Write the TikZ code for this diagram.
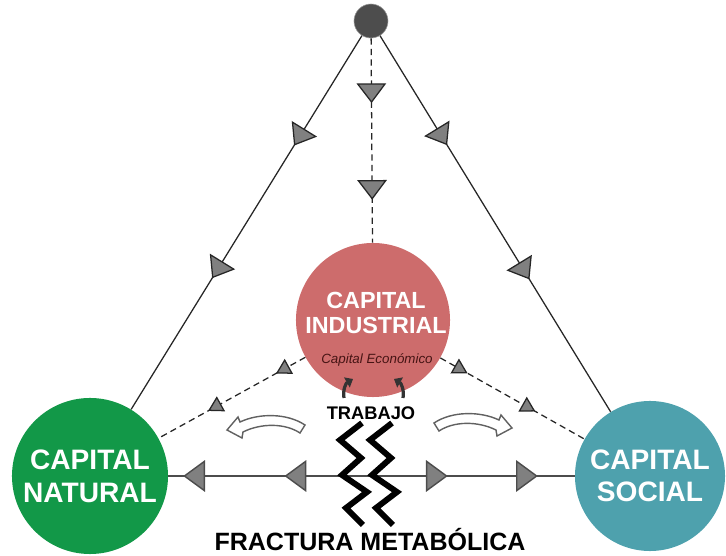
\documentclass[tikz,border=0pt]{standalone}
\usepackage{fontspec}
\setmainfont{Liberation Sans}
\usetikzlibrary{arrows.meta,decorations.markings}
\definecolor{indred}{RGB}{205,108,108}
\definecolor{natgreen}{RGB}{18,152,72}
\definecolor{socteal}{RGB}{78,161,173}
\definecolor{topgray}{RGB}{77,77,77}
\definecolor{trigray}{RGB}{128,128,128}
\definecolor{econtext}{RGB}{70,20,20}
\tikzset{
	line/.style={draw=black!85, line width=0.9pt},
	dline/.style={line, dash pattern=on 4.5pt off 3pt},
	hline/.style={draw=black!70, line width=1pt},
	bigtri/.tip={Triangle[length=14pt, width=21pt, fill=trigray]},
	widetri/.tip={Triangle[length=15.5pt, width=22.5pt, fill=trigray]},
	smalltri/.tip={Triangle[length=10.5pt, width=12pt, fill=trigray]},
	marks/.style n args={3}{postaction={decorate}, decoration={markings,
		mark=at position #1 with {\arrow{#3}},
		mark=at position #2 with {\arrow{#3}}}},
	capital/.style={circle, inner sep=0pt, align=center, text=white},
	zig/.style={draw=black, line width=4.2pt, line join=miter, miter limit=10},
	push/.style={draw=black!80, line width=2.3pt, -{Triangle[length=5pt, width=8pt]}},
	openarr/.pic={
		\draw[draw=black!62, line width=1pt, fill=white, line join=miter]
			(0,0) -- (11,-13) -- (13,-8) .. controls (32,-17) and (60,-17) .. (78,-5)
			-- (73,3) .. controls (58,-7) and (34,-7) .. (16,2) -- (15,8) -- cycle;
	}
}
\begin{document}
\begin{tikzpicture}[x=0.025cm, y=-0.025cm]
	\useasboundingbox (0,0) rectangle (726,556);
	% capitals
	\node[circle, fill=topgray, draw=black!40, minimum size=0.85cm, inner sep=0pt] (top) at (371,21) {};
	\node[capital, fill=indred, minimum size=3.85cm] (ind) at (373,320) {};
	\node[capital, font=\fontsize{16.6}{18.4}\selectfont\bfseries] (indlbl) at (376,313) {CAPITAL\\INDUSTRIAL};
	\node[capital, fill=natgreen, minimum size=3.9cm,
		font=\fontsize{20}{23.5}\selectfont\bfseries] (nat) at (90,476) {CAPITAL\\NATURAL};
	\node[capital, fill=socteal, minimum size=3.75cm,
		font=\fontsize{20}{23}\selectfont\bfseries] (soc) at (650,476) {CAPITAL\\SOCIAL};
	\coordinate (mid) at (370,476);

	% flows
	\path[line, marks={0.294}{0.649}{bigtri}] (top) -- (nat);
	\path[line, marks={0.291}{0.648}{bigtri}] (top) -- (soc);
	\path[dline, marks={0.317}{0.79}{bigtri}] (top) -- (ind);
	\path[dline, marks={0.20}{0.663}{smalltri}] (ind) -- (nat);
	\path[dline, marks={0.189}{0.66}{smalltri}] (ind) -- (soc);
	\path[hline, marks={0.424}{0.926}{widetri}] (mid) -- (nat);
	\path[hline, marks={0.38}{0.82}{widetri}] (mid) -- (soc);

	% rift
	\draw[zig] (362,423) -- (340,440) -- (361,458) -- (342,475) -- (367,492) -- (346,508) -- (363,525);
	\draw[zig] (392,423) -- (370,440) -- (391,458) -- (372,475) -- (397,492) -- (376,508) -- (393,525);
	\pic (larr) at (227,430) {openarr};
	\pic[xscale=-1] (rarr) at (512,428) {openarr};

	% labour
	\node[font=\fontsize{9.5}{11}\selectfont\itshape, text=econtext] (econ) at (377,360) {Capital Económico};
	\node[font=\fontsize{13}{15}\selectfont\bfseries] (trab) at (371,413) {TRABAJO};
	\draw[push] (344,398) to[bend left=35] (353,379);
	\draw[push] (403,398) to[bend right=35] (394,379);
	\node[font=\fontsize{17.8}{20}\selectfont\bfseries] (fract) at (370,540) {FRACTURA METABÓLICA};
\end{tikzpicture}
\end{document}
